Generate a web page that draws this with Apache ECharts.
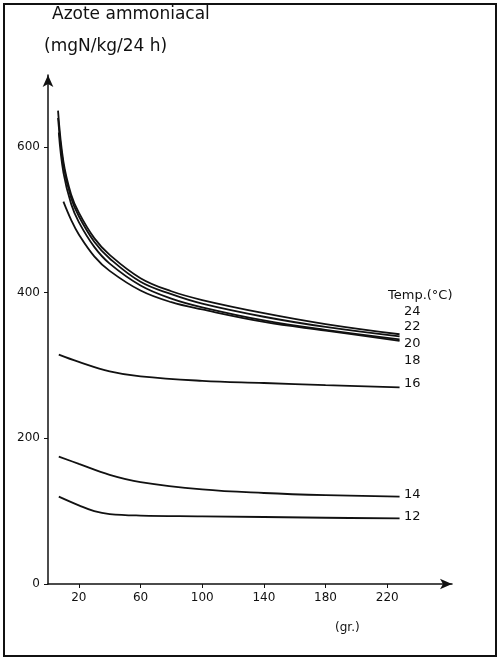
<!DOCTYPE html><html><head><meta charset="utf-8">
<script src="https://cdn.jsdelivr.net/npm/echarts@6/dist/echarts.min.js"></script>
<style>html,body{margin:0;background:#fff}#c{width:500px;height:660px}</style></head><body><div id="c"></div>
<script>
const xTicks=[20,60,100,140,180,220];
const yTicks=[0,200,400,600];
const t24=[[6.5,650],[10,580],[15,535],[20,510],[30,475],[40,452],[60,420],[80,402],[100,390],[140,372],[180,357],[228,343]];
const t22=[[6.5,640],[10,575],[15,530],[20,505],[30,470],[40,447],[60,415],[80,398],[100,385],[140,367],[180,353],[228,340]];
const t20=[[7,620],[10,565],[15,522],[20,497],[30,463],[40,440],[60,410],[80,392],[100,380],[140,362],[180,349],[228,336]];
const t18=[[10,525],[15,500],[20,480],[30,450],[40,430],[60,403],[80,387],[100,377],[140,360],[180,348],[228,334]];
const t16=[[7,315],[20,305],[40,292],[60,285],[100,279],[140,276],[180,273],[228,270]];
const t14=[[7,175],[20,165],[40,150],[60,140],[100,130],[140,125],[180,122],[228,120]];
const t12=[[7,120],[20,108],[30,100],[40,96],[60,94],[100,93],[180,91],[228,90]];
const labels=[['Temp.(°C)',297],['24',313],['22',328],['20',345],['18',362],['16',385],['14',496],['12',518]];
const F='DejaVu Sans';
const ch=echarts.init(document.getElementById('c'));
const mk=d=>({type:'line',data:d,smooth:0.4,symbol:'none',lineStyle:{color:'#111',width:1.8},silent:true});
ch.setOption({animation:false,
grid:{left:48,right:48,top:75,bottom:76},
xAxis:{type:'value',min:0,max:262,splitLine:{show:false},
 axisLine:{lineStyle:{color:'#111',width:1.5},symbol:['none','arrow'],symbolSize:[8,12]},
 axisTick:{customValues:xTicks,length:4,lineStyle:{color:'#111'}},
 axisLabel:{customValues:xTicks,color:'#111',fontFamily:F,fontSize:12}},
yAxis:{type:'value',min:0,max:699,interval:200,splitLine:{show:false},
 axisLine:{show:true,lineStyle:{color:'#111',width:1.5},symbol:['none','arrow'],symbolSize:[8,12]},
 axisTick:{show:true,customValues:yTicks,length:4,lineStyle:{color:'#111'}},
 axisLabel:{customValues:yTicks,color:'#111',fontFamily:F,fontSize:12}},
series:[t24,t22,t20,t18,t16,t14,t12].map(mk),
graphic:[
 {type:'rect',shape:{x:4,y:4,width:492,height:652},style:{fill:'none',stroke:'#111',lineWidth:2}},
 {type:'text',left:52,top:6,style:{text:'Azote ammoniacal',font:'17px '+F,fill:'#111'}},
 {type:'text',left:44,top:38,style:{text:'(mgN/kg/24 h)',font:'17px '+F,fill:'#111'}},
 {type:'text',left:335,top:622,style:{text:'(gr.)',font:'12px '+F,fill:'#111'}},
 ...labels.map(([t,y],i)=>({type:'text',left:i==0?388:404,top:y-8,style:{text:t,font:'13px '+F,fill:'#111'}}))
]});
</script></body></html>
